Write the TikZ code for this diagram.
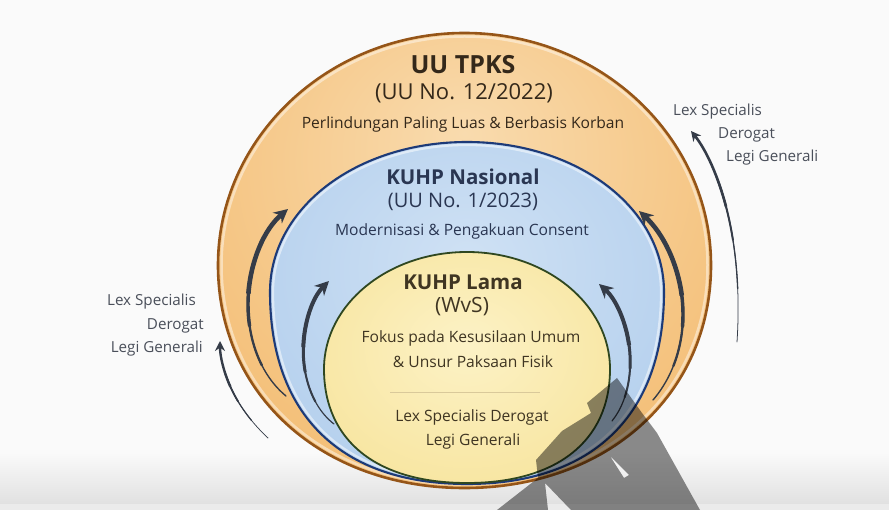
\documentclass[tikz,border=0pt]{standalone}
\usepackage{fontspec}
\setmainfont{Open Sans}
\usetikzlibrary{arrows.meta,calc}
\definecolor{bg}{HTML}{FAFAFA}
\definecolor{band}{HTML}{E1E1E1}
\definecolor{orIn}{HTML}{F9DBAE}
\definecolor{orOut}{HTML}{F2B462}
\definecolor{orEdge}{HTML}{955518}
\definecolor{blIn}{HTML}{CFE1F4}
\definecolor{blOut}{HTML}{A7C7EA}
\definecolor{blEdge}{HTML}{1D3A78}
\definecolor{yeIn}{HTML}{FCF2C6}
\definecolor{yeOut}{HTML}{F5DD88}
\definecolor{yeEdge}{HTML}{2F4720}
\definecolor{arrowc}{HTML}{353C48}
\definecolor{sidec}{HTML}{4A4F5A}
\definecolor{ortext}{HTML}{34281A}
\definecolor{bltext}{HTML}{2A3652}
\definecolor{yetext}{HTML}{3F3522}
\definecolor{sepc}{HTML}{D9C99A}
\pgfdeclareradialshading{orshade}{\pgfpoint{0bp}{14bp}}{color(0bp)=(orIn); color(46bp)=(orOut); color(75bp)=(orOut)}
\pgfdeclareradialshading{blshade}{\pgfpoint{0bp}{8bp}}{color(0bp)=(blIn); color(48bp)=(blOut); color(75bp)=(blOut)}
\pgfdeclareradialshading{yeshade}{\pgfpoint{0bp}{5bp}}{color(0bp)=(yeIn); color(50bp)=(yeOut); color(75bp)=(yeOut)}
% egg-like closed curve: cx, cy, rx, ry-top, ry-bottom, k-top, k-bottom
\newcommand\eggpath[7]{({#1+#3},{#2}) .. controls ({#1+#3},{#2-#6*#4}) and ({#1+#6*#3},{#2-#4}) .. ({#1},{#2-#4}) .. controls ({#1-#6*#3},{#2-#4}) and ({#1-#3},{#2-#6*#4}) .. ({#1-#3},{#2}) .. controls ({#1-#3},{#2+#7*#5}) and ({#1-#7*#3},{#2+#5}) .. ({#1},{#2+#5}) .. controls ({#1+#7*#3},{#2+#5}) and ({#1+#3},{#2+#7*#5}) .. cycle}
% tapering curved arrow: #1 tip style, #2 tail, #3 c1, #4 c2, #5 head, #6 max width
\newcommand\taperarrow[6]{%
  % piece of the curve from t=0.7 backwards, drawn in layers of growing width
  \coordinate (r01) at ($#2!0.7!#3$);
  \coordinate (r12) at ($#3!0.7!#4$);
  \coordinate (r23) at ($#4!0.7!#5$);
  \coordinate (r012) at ($(r01)!0.7!(r12)$);
  \coordinate (r123) at ($(r12)!0.7!(r23)$);
  \coordinate (rm) at ($(r012)!0.7!(r123)$);
  \foreach \ts/\ww in {0/0.3, 0.2857/0.5, 0.5714/0.75} {
    \coordinate (s01) at ($#2!\ts!(r01)$);
    \coordinate (s12) at ($(r01)!\ts!(r012)$);
    \coordinate (s23) at ($(r012)!\ts!(rm)$);
    \coordinate (s012) at ($(s01)!\ts!(s12)$);
    \coordinate (s123) at ($(s12)!\ts!(s23)$);
    \coordinate (sm) at ($(s012)!\ts!(s123)$);
    \draw[draw=arrowc, line width=\ww*#6, line cap=round] (sm) .. controls (s123) and (s23) .. (rm);
  }
  % last piece, from t=0.55 to the head, full width with the tip
  \coordinate (q01) at ($#2!0.55!#3$);
  \coordinate (q12) at ($#3!0.55!#4$);
  \coordinate (q23) at ($#4!0.55!#5$);
  \coordinate (q012) at ($(q01)!0.55!(q12)$);
  \coordinate (q123) at ($(q12)!0.55!(q23)$);
  \coordinate (qm) at ($(q012)!0.55!(q123)$);
  \draw[draw=arrowc, line width=#6, #1] (qm) .. controls (q123) and (q23) .. #5;
}
\tikzset{
  txt/.style={inner sep=0pt, anchor=center},
  ttl/.style={txt, font=\bfseries\fontsize{25}{30}\selectfont},
  sub/.style={txt, font=\bfseries\fontsize{20.5}{24}\selectfont},
  paren/.style={txt, font=\fontsize{20}{24}\selectfont},
  desc/.style={txt, font=\fontsize{15.6}{19}\selectfont},
  side/.style={inner sep=0pt, font=\fontsize{15.2}{18}\selectfont, text=sidec},
  bigtip/.style={-{Stealth[length=14pt,width=14pt]}},
  smalltip/.style={-{Stealth[length=10pt,width=10pt]}},
}
\begin{document}
\begin{tikzpicture}[x=1pt,y=-1pt]
\useasboundingbox (0,0) rectangle (889,510);
% background
\fill[bg] (0,0) rectangle (889,510);
\shade[top color=bg, bottom color=band] (0,452) rectangle (889,504);
\fill[band!60!bg] (0,504) rectangle (889,510);

% outer: UU TPKS
\path[shading=orshade] \eggpath{464.5}{265}{246.5}{232}{223}{0.55}{0.58};
\draw[white, opacity=0.45, line width=2.5pt] \eggpath{464.5}{265}{243}{228.5}{219.5}{0.55}{0.58};
\draw[orEdge, line width=2.6pt] \eggpath{464.5}{265}{246.5}{232}{223}{0.55}{0.58};

% middle: KUHP Nasional
\path[shading=blshade] \eggpath{467}{292}{197}{150}{192}{0.56}{0.64};
\draw[white, opacity=0.5, line width=2.2pt] \eggpath{467}{292}{194}{147}{189}{0.56}{0.64};
\draw[blEdge, line width=2.1pt] \eggpath{467}{292}{197}{150}{192}{0.56}{0.64};

% inner: KUHP Lama
\path[shading=yeshade] \eggpath{467}{369}{143}{117}{114}{0.552}{0.63};
\draw[yeEdge, line width=1.8pt] \eggpath{467}{369}{143}{117}{114}{0.552}{0.63};

% texts outer
\node[ttl, text=ortext] (tpks) at (463,65) {UU TPKS};
\node[paren, text=ortext, font=\fontsize{22}{26}\selectfont] (tpksno) at (464,93) {(UU No. 12/2022)};
\node[desc, text=ortext] (tpksd) at (463,124) {Perlindungan Paling Luas \& Berbasis Korban};
% texts middle
\node[sub, text=bltext] (nas) at (463,177) {KUHP Nasional};
\node[paren, text=bltext] (nasno) at (463,202) {(UU No. 1/2023)};
\node[desc, text=bltext] (nasd) at (462,231) {Modernisasi \& Pengakuan Consent};
% texts inner
\node[sub, text=yetext] (lama) at (463,282) {KUHP Lama};
\node[paren, text=yetext, font=\fontsize{21}{25}\selectfont] (wvs) at (462,307) {(WvS)};
\node[desc, text=yetext] (lamad1) at (471,338) {Fokus pada Kesusilaan Umum};
\node[desc, text=yetext] (lamad2) at (473,362) {\& Unsur Paksaan Fisik};
\coordinate (sepL) at (390,392);
\coordinate (sepR) at (540,392);
\draw[sepc, line width=0.8pt] (sepL) -- (sepR);
\node[desc, text=yetext] (lex1) at (472,417) {Lex Specialis Derogat};
\node[desc, text=yetext] (lex2) at (473,441) {Legi Generali};

% side labels
\node[side, anchor=east] (ll1) at (196,302) {Lex Specialis};
\node[side, anchor=east] (ll2) at (204,326) {Derogat};
\node[side, anchor=east] (ll3) at (203,349) {Legi Generali};
\node[side, anchor=west] (rl1) at (673,112) {Lex Specialis};
\node[side, anchor=west] (rl2) at (718,135) {Derogat};
\node[side, anchor=west] (rl3) at (726,158) {Legi Generali};

% arrows
\coordinate (oLt) at (268,438); \coordinate (oLh) at (220,341);
\coordinate (oRt) at (737,342); \coordinate (oRh) at (691,131);
\coordinate (aLt) at (286,396); \coordinate (aLh) at (288,209);
\coordinate (aRt) at (653,400); \coordinate (aRh) at (639,211);
\coordinate (bLt) at (334,424); \coordinate (bLh) at (329,281);
\coordinate (bRt) at (612,421); \coordinate (bRh) at (599,284);
\taperarrow{smalltip}{(oLt)}{(238,410)}{(220,375)}{(oLh)}{2.4pt}
\taperarrow{smalltip}{(oRt)}{(743,250)}{(724,172)}{(oRh)}{2.6pt}
\taperarrow{bigtip}{(aLt)}{(236,355)}{(234,255)}{(aLh)}{4.6pt}
\taperarrow{bigtip}{(aRt)}{(696,350)}{(694,262)}{(aRh)}{4.6pt}
\taperarrow{bigtip}{(bLt)}{(296,395)}{(292,318)}{(bLh)}{4pt}
\taperarrow{bigtip}{(bRt)}{(639,388)}{(637,318)}{(bRh)}{4pt}

% shadow cast over the lower right
\fill[black, opacity=0.45, even odd rule]
  (617,378) -- (642,413) -- (657,433) -- (700,510) -- (571,510) -- (545,483)
  -- (548,510) -- (497,510) -- (538,478) -- (536,460) -- (562,431)
  -- (591,413) -- (587,403) -- cycle
  (610,456) -- (629,475) -- (624,478) -- cycle;
\end{tikzpicture}
\end{document}
